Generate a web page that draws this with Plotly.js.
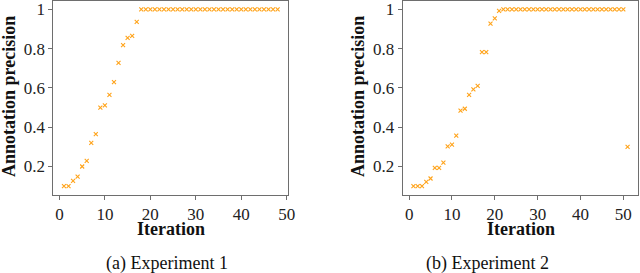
<!DOCTYPE html>
<html>
<head>
<meta charset="utf-8">
<script src="https://cdn.plot.ly/plotly-3.0.1.min.js"></script>
<style>html,body{margin:0;padding:0;background:#fff;}#chart{width:640px;height:273px;}</style>
</head>
<body>
<div id="chart"></div>
<script>
// Experiment 1: iterations 1..48
const exp1Iter = [1,2,3,4,5,6,7,8,9,10,11,12,13,14,15,16,17,18,19,20,21,22,23,24,25,26,27,28,29,30,31,32,33,34,35,36,37,38,39,40,41,42,43,44,45,46,47,48];
const exp1Prec = [0.1,0.1,0.127,0.148,0.2,0.229,0.32,0.365,0.5,0.511,0.565,0.629,0.728,0.818,0.855,0.865,0.936,
  1,1,1,1,1,1,1,1,1,1,1,1,1,1,1,1,1,1,1,1,1,1,1,1,1,1,1,1,1,1,1];
// Experiment 2: iterations 1..51
const exp2Iter = [1,2,3,4,5,6,7,8,9,10,11,12,13,14,15,16,17,18,19,20,21,22,23,24,25,26,27,28,29,30,31,32,33,34,35,36,37,38,39,40,41,42,43,44,45,46,47,48,49,50,51];
const exp2Prec = [0.1,0.1,0.1,0.122,0.139,0.193,0.193,0.22,0.303,0.311,0.357,0.484,0.494,0.565,0.593,0.61,0.782,0.782,0.927,0.954,0.992,
  1,1,1,1,1,1,1,1,1,1,1,1,1,1,1,1,1,1,1,1,1,1,1,1,1,1,1,1,1,0.3];
const xTicks = [0,10,20,30,40,50];
const yTicks = [0.2,0.4,0.6,0.8,1];
const yTickText = ["0.2","0.4","0.6","0.8","1"];
const captions = ["(a) Experiment 1","(b) Experiment 2"];
const xTitle = "Iteration";
const yTitle = "Annotation precision";

const W = 640, H = 273;
const serif = "Liberation Serif";
const orange = "#ffa31a";
const marker = {symbol:"x-thin-open", size:4, color:orange, line:{color:orange, width:1.1}};

const traces = [
  {x:exp1Iter, y:exp1Prec, mode:"markers", type:"scatter", xaxis:"x", yaxis:"y", marker:marker, showlegend:false},
  {x:exp2Iter, y:exp2Prec, mode:"markers", type:"scatter", xaxis:"x2", yaxis:"y2", marker:marker, showlegend:false}
];

const yTop = 1 - 0.5/H, yBot = 1 - 195/H;
const axCommon = {showline:true, mirror:true, linecolor:"#6e6e6e", linewidth:1, ticks:"outside", ticklen:4, tickcolor:"#6e6e6e",
  showgrid:false, zeroline:false, tickfont:{family:serif, size:17, color:"#222"}};

const layout = {
  width:W, height:H, margin:{l:0,r:0,t:0,b:0}, paper_bgcolor:"#fff", plot_bgcolor:"#fff",
  xaxis: Object.assign({}, axCommon, {domain:[53.3/W, 288.3/W], range:[-1.35,50.35], tickvals:xTicks, anchor:"y"}),
  yaxis: Object.assign({}, axCommon, {domain:[yBot, yTop], range:[0.055,1.045], tickvals:yTicks, ticktext:yTickText, anchor:"x"}),
  xaxis2: Object.assign({}, axCommon, {domain:[402.7/W, 638.3/W], range:[-1.5,53.5], tickvals:xTicks, anchor:"y2"}),
  yaxis2: Object.assign({}, axCommon, {domain:[yBot, yTop], range:[0.055,1.045], tickvals:yTicks, ticktext:yTickText, anchor:"x2"}),
  annotations: [
    {text:"<b>"+xTitle+"</b>", xref:"paper", yref:"paper", x:170.8/W, y:1-229/H, showarrow:false, xanchor:"center", yanchor:"middle", font:{family:serif,size:18,color:"#111"}},
    {text:"<b>"+xTitle+"</b>", xref:"paper", yref:"paper", x:520.5/W, y:1-229/H, showarrow:false, xanchor:"center", yanchor:"middle", font:{family:serif,size:18,color:"#111"}},
    {text:"<b>"+yTitle+"</b>", xref:"paper", yref:"paper", x:9/W, y:1-97/H, showarrow:false, textangle:-90, xanchor:"center", yanchor:"middle", font:{family:serif,size:18,color:"#111"}},
    {text:"<b>"+yTitle+"</b>", xref:"paper", yref:"paper", x:358/W, y:1-97/H, showarrow:false, textangle:-90, xanchor:"center", yanchor:"middle", font:{family:serif,size:18,color:"#111"}},
    {text:captions[0], xref:"paper", yref:"paper", x:166.5/W, y:1-263/H, showarrow:false, xanchor:"center", yanchor:"middle", font:{family:serif,size:18,color:"#111"}},
    {text:captions[1], xref:"paper", yref:"paper", x:487/W, y:1-263/H, showarrow:false, xanchor:"center", yanchor:"middle", font:{family:serif,size:18,color:"#111"}}
  ]
};
Plotly.newPlot("chart", traces, layout, {staticPlot:true, displayModeBar:false});
</script>
</body>
</html>
